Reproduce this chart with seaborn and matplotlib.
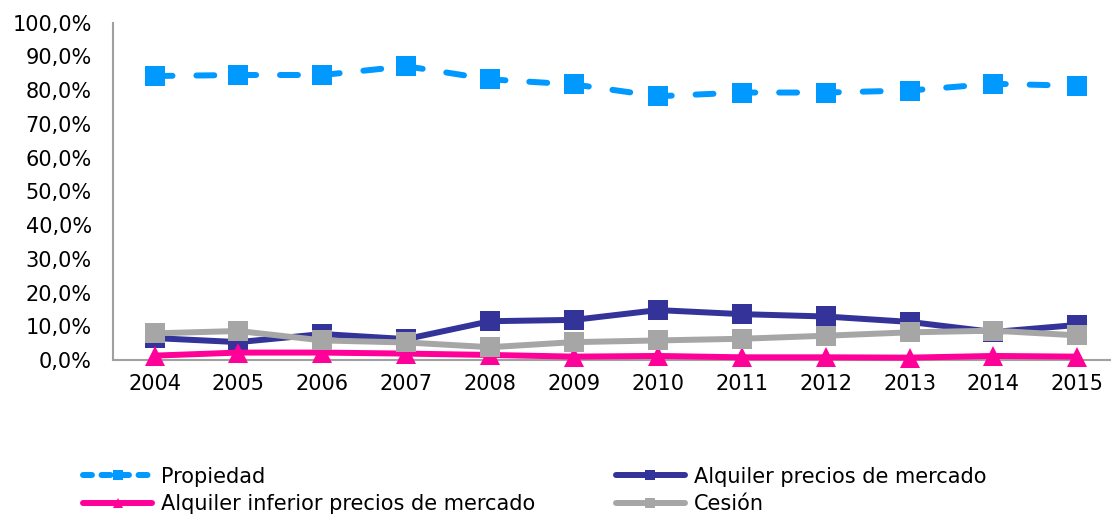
import numpy as np
import pandas as pd
import matplotlib
matplotlib.use('Agg')
import matplotlib.pyplot as plt
from matplotlib.lines import Line2D
from matplotlib.ticker import FuncFormatter, FixedLocator
import seaborn as sns

# Data (%)
years = ['2004', '2005', '2006', '2007', '2008', '2009', '2010', '2011', '2012', '2013', '2014', '2015']
propiedad = [84.2, 84.5, 84.5, 87.1, 83.2, 81.7, 78.2, 79.3, 79.3, 79.9, 81.9, 81.3]
alquiler_mercado = [6.5, 5.3, 7.7, 6.2, 11.5, 11.9, 14.8, 13.6, 12.9, 11.3, 8.3, 10.4]
alquiler_inferior = [1.3, 2.2, 2.2, 1.9, 1.5, 1.0, 1.2, 0.8, 0.8, 0.7, 1.2, 1.0]
cesion = [7.9, 8.6, 5.8, 5.2, 3.8, 5.3, 5.8, 6.3, 7.2, 8.2, 8.7, 7.3]

series_names = ['Propiedad', 'Alquiler precios de mercado',
                'Alquiler inferior precios de mercado', 'Cesión']
series_values = [propiedad, alquiler_mercado, alquiler_inferior, cesion]
colors = ['#0099FF', '#333399', '#FF0099', '#A6A6A6']
markers = ['s', 's', '^', 's']
dashed = [True, False, False, False]
LW = 4.3
DASH = (0, (3.0, 4.0))

sns.set_style('white')
plt.rcParams['font.family'] = ['DejaVu Sans']

fig = plt.figure(figsize=(11.11, 5.14), dpi=100)
ax = fig.add_axes([0.1014, 0.2996, 0.906, 0.6562])

x = np.arange(len(years))
for name, vals, c, m, d in zip(series_names, series_values, colors, markers, dashed):
    df = pd.DataFrame({'x': x, 'y': vals})
    sns.lineplot(data=df, x='x', y='y', ax=ax, color=c, marker=m, markersize=15,
                 markeredgewidth=0, linewidth=LW, clip_on=False)
    ln = ax.lines[-1]
    ln.set_solid_joinstyle('round')
    ln.set_solid_capstyle('round')
    if d:
        ln.set_linestyle(DASH)
        ln.set_dash_capstyle('round')

ax.set_xlim(-0.5, len(years) - 0.5)
ax.set_ylim(0, 100)
ax.set_yticks(np.arange(0, 101, 10))
ax.yaxis.set_major_formatter(FuncFormatter(lambda v, p: f'{v:.1f}%'.replace('.', ',')))
ax.set_xticks(x)
ax.set_xticklabels(years)
ax.xaxis.set_minor_locator(FixedLocator(np.arange(-0.5, len(years), 1)))
ax.tick_params(axis='x', which='major', length=0, pad=10, labelsize=15, colors='#000000')
ax.tick_params(axis='x', which='minor', length=5, width=1.2, color='#A0A0A0', direction='out')
ax.tick_params(axis='y', length=5, width=1.2, color='#A0A0A0', labelsize=15, pad=10,
               labelcolor='#000000')
ax.set_xlabel('')
ax.set_ylabel('')
for s in ['top', 'right']:
    ax.spines[s].set_visible(False)
for s in ['left', 'bottom']:
    ax.spines[s].set_color('#A0A0A0')
    ax.spines[s].set_linewidth(1.5)
    ax.spines[s].set_zorder(1)

# legend proxies (row-major order like the reference)
proxies = []
for c, m, d in zip(colors, markers, dashed):
    h = Line2D([], [], color=c, marker=m, markersize=7, markeredgewidth=0, linewidth=LW,
               solid_capstyle='round', dash_capstyle='round')
    if d:
        h.set_linestyle((0, (1.5, 1.6)))
    proxies.append(h)
order = [0, 2, 1, 3]
fig.legend([proxies[i] for i in order], [series_names[i] for i in order],
           ncol=2, loc='upper left', bbox_to_anchor=(0.075, 0.092),
           frameon=False, fontsize=15, handlelength=3.3, handletextpad=0.45,
           columnspacing=3.85, labelspacing=0.35, borderaxespad=0, borderpad=0,
           labelcolor='#000000')

fig.savefig('out.png', dpi=100)
